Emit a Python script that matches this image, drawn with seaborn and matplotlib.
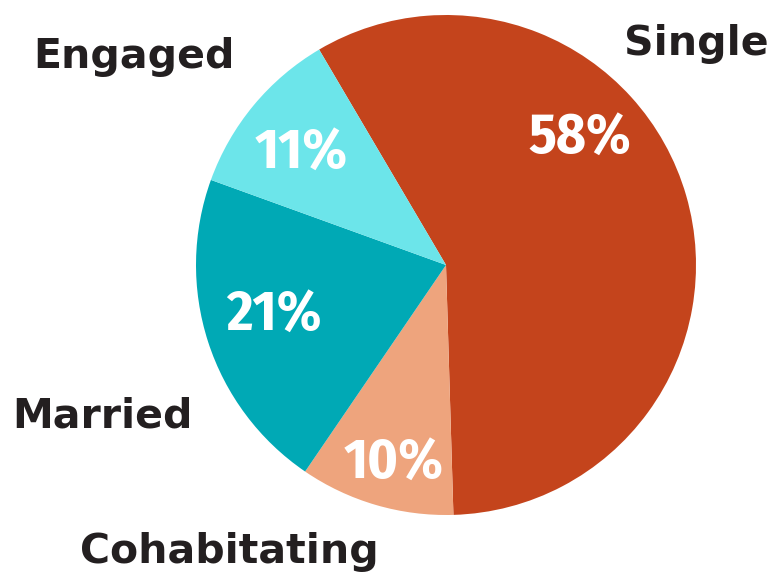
import seaborn as sns
import matplotlib.pyplot as plt
from matplotlib import font_manager

# data
categories = ['Single', 'Cohabitating', 'Married', 'Engaged']
shares = [58, 10, 21, 11]
colors = ['#C4441C', '#EEA47D', '#00A9B5', '#6CE5EA']


def pick_font(candidates):
    bold = {f.name for f in font_manager.fontManager.ttflist if f.weight >= 600}
    for c in candidates:
        if c in bold:
            return c
    return 'DejaVu Sans'


pct_font = pick_font(['Fira Sans Condensed', 'Barlow Semi Condensed',
                      'Roboto Condensed', 'Encode Sans Semi Condensed'])
name_font = 'DejaVu Sans'

sns.set_theme(style='white')
plt.rcParams['font.family'] = [name_font]

W, H = 770, 573
fig = plt.figure(figsize=(W / 100, H / 100), dpi=100)
ax = fig.add_axes([0, 0, 1, 1])

# pie centre at (446, 265) px from top-left, radius 250 px
r_px = 250
cx, cy = 446, 265
ax.pie(shares, colors=colors, startangle=120.5, counterclock=False,
       wedgeprops=dict(linewidth=0))
ax.set_xlim(-cx / r_px, (W - cx) / r_px)
ax.set_ylim(-(H - cy) / r_px, cy / r_px)
ax.set_aspect('equal')
ax.axis('off')


def px(x, y):
    return x / W, 1 - y / H


# label positions (pixel coords of text centre / baseline)
name_pos = {'Single': (696, 55), 'Engaged': (134, 68),
            'Married': (103, 428), 'Cohabitating': (229, 563)}
pct_pos = {'Single': (580, 153), 'Engaged': (301, 168),
           'Married': (274, 330), 'Cohabitating': (394, 478)}

for cat, val in zip(categories, shares):
    x, y = px(*name_pos[cat])
    fig.text(x, y, cat, ha='center', va='baseline', fontsize=29.5,
             fontweight='bold', color='#231F20', family=name_font)
    x, y = px(*pct_pos[cat])
    fig.text(x, y, f'{val}%', ha='center', va='baseline', fontsize=41,
             fontweight='bold', color='white', family=pct_font)

fig.savefig('out.png', dpi=100)
